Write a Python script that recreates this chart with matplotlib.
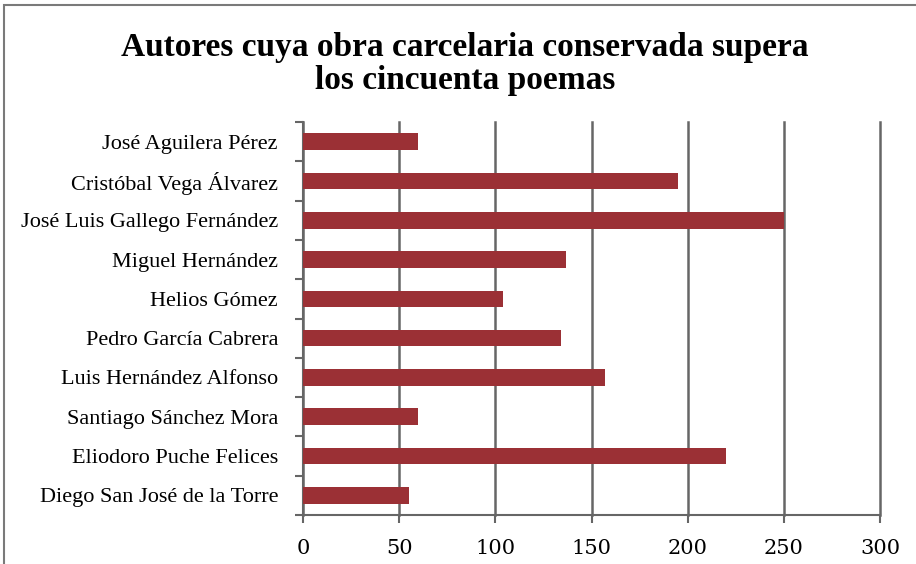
import matplotlib
matplotlib.use("Agg")
import matplotlib.pyplot as plt
from matplotlib.patches import Rectangle
from matplotlib.ticker import FixedLocator, NullFormatter

authors = [
    "José Aguilera Pérez",
    "Cristóbal Vega Álvarez",
    "José Luis Gallego Fernández",
    "Miguel Hernández",
    "Helios Gómez",
    "Pedro García Cabrera",
    "Luis Hernández Alfonso",
    "Santiago Sánchez Mora",
    "Eliodoro Puche Felices",
    "Diego San José de la Torre",
]
poems = [60, 195, 250, 137, 104, 134, 157, 60, 220, 55]
xticks = [0, 50, 100, 150, 200, 250, 300]
title = "Autores cuya obra carcelaria conservada supera\nlos cincuenta poemas"

bar_color = "#9b3035"
grid_color = "#666666"

fig = plt.figure(figsize=(9.16, 5.64), dpi=100)
fig.patches.append(Rectangle((4/916, -0.05), 1.2, 1 - 5/564 + 0.05, transform=fig.transFigure,
                             fill=False, edgecolor="#7a7a7a", linewidth=1.5))

ax = fig.add_axes([303/916, 1 - 515/564, (880 - 303)/916, (515 - 122)/564])
n = len(authors)
ypos = list(range(n))[::-1]
ax.barh(ypos, poems, height=0.42, color=bar_color, zorder=3)
ax.set_xlim(0, 300)
ax.set_ylim(-0.5, n - 0.5)
ax.set_xticks(xticks)
ax.set_xticklabels([str(t) for t in xticks], family="DejaVu Serif", fontsize=15)
ax.set_yticks(ypos)
ax.set_yticklabels(authors, family="Liberation Serif", fontsize=16)
ax.tick_params(axis="y", length=0, pad=18)
ax.yaxis.set_minor_locator(FixedLocator([i - 0.5 for i in range(n + 1)]))
ax.yaxis.set_minor_formatter(NullFormatter())
ax.tick_params(axis="y", which="minor", length=6, width=1.5, color=grid_color, direction="out")
ax.tick_params(axis="x", length=6, width=1.5, color=grid_color, direction="out", pad=11)
ax.grid(axis="x", color=grid_color, linewidth=1.8, zorder=0)
for gl in ax.get_xgridlines():
    gl.set_clip_on(False)
for s in ["top", "right"]:
    ax.spines[s].set_visible(False)
for s in ["left", "bottom"]:
    ax.spines[s].set_color(grid_color)
    ax.spines[s].set_linewidth(1.5)

fig.text(465/916, 1 - 64/564, title, ha="center", va="center", family="Liberation Serif",
         fontweight="bold", fontsize=24, linespacing=1.12)

fig.savefig("out.png", dpi=100)
